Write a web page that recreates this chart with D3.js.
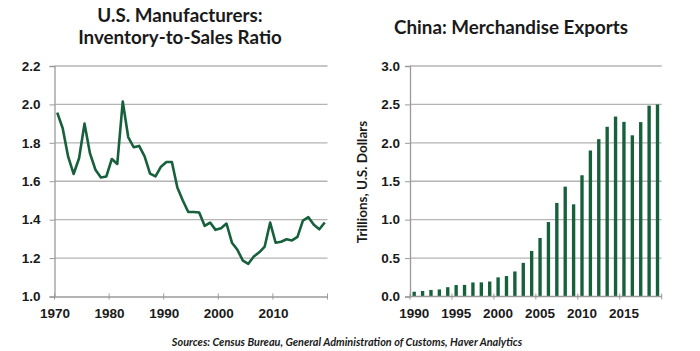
<!DOCTYPE html>
<html>
<head>
<meta charset="utf-8">
<script src="https://cdn.jsdelivr.net/npm/d3@7"></script>
<style>
  body { margin: 0; background: #fff; }
  svg { display: block; font-family: Lato, "Open Sans", sans-serif; }
</style>
</head>
<body>
<div id="chart"></div>
<script>
// Inventory-to-sales ratio, 1970-2019
const ratioYears = d3.range(1970, 2020);
const ratioValues = [
    1.957, 1.876, 1.728, 1.638, 1.72, 1.90, 1.745, 1.66, 1.62, 1.625,
    1.716, 1.69, 2.015, 1.83, 1.777, 1.784, 1.73, 1.64, 1.625, 1.676,
    1.70, 1.70, 1.567, 1.50, 1.44, 1.44, 1.437, 1.368, 1.385, 1.347,
    1.355, 1.38, 1.28, 1.243, 1.187, 1.17, 1.208, 1.23, 1.26, 1.385,
    1.28, 1.285, 1.298, 1.292, 1.31, 1.395, 1.413, 1.373, 1.35, 1.385
];
const ratioTicks = [1.0, 1.2, 1.4, 1.6, 1.8, 2.0, 2.2];
const ratioYearTicks = [1970, 1980, 1990, 2000, 2010];

// China merchandise exports, trillions USD, 1990-2019
const exportYears = d3.range(1990, 2020);
const exportValues = [
    0.062, 0.072, 0.085, 0.092, 0.121, 0.149, 0.151, 0.183, 0.184, 0.195,
    0.249, 0.266, 0.326, 0.438, 0.593, 0.762, 0.969, 1.218, 1.43, 1.20,
    1.578, 1.90, 2.048, 2.209, 2.342, 2.273, 2.098, 2.27, 2.484, 2.499
];
const exportTicks = [0, 0.5, 1.0, 1.5, 2.0, 2.5, 3.0];
const exportYearLabels = [1990, 1995, 2000, 2005, 2010, 2015];

const green = "#17603c";
const gridColor = "#b4b4b4";
const axisColor = "#9a9a9a";
const textColor = "#1a1a1a";

const svg = d3.select("#chart")
    .append("svg")
    .attr("width", 700)
    .attr("height", 351);

const plotTop = 66, plotBottom = 296.5;

// ---------- Left chart: line ----------
const x1 = d3.scaleLinear().domain([1970, 2020]).range([54.5, 327.5]);
const y1 = d3.scaleLinear().domain([1.0, 2.2]).range([plotBottom, plotTop]);

const left = svg.append("g");

// gridlines
left.selectAll(".grid")
    .data(ratioTicks.slice(1))
    .join("line")
    .attr("x1", x1(1970)).attr("x2", x1(2020))
    .attr("y1", d => y1(d)).attr("y2", d => y1(d))
    .attr("stroke", gridColor).attr("stroke-width", 1.3);

// y axis
left.append("g")
    .attr("transform", `translate(${x1(1970)},0)`)
    .call(d3.axisLeft(y1).tickValues(ratioTicks).tickFormat(d3.format(".1f")).tickSize(5).tickPadding(9));

// x axis
left.append("g")
    .attr("transform", `translate(0,${plotBottom})`)
    .call(d3.axisBottom(x1).tickValues(ratioYearTicks).tickFormat(d3.format("d")).tickSize(0).tickPadding(12));
left.selectAll(".xt1")
    .data([...ratioYearTicks, 2020])
    .join("line")
    .attr("x1", d => x1(d)).attr("x2", d => x1(d))
    .attr("y1", plotBottom - 3).attr("y2", plotBottom + 3)
    .attr("stroke", axisColor);

const line = d3.line()
    .x((d, i) => x1(ratioYears[i] + 0.5))
    .y(d => y1(d));

left.append("path")
    .datum(ratioValues)
    .attr("d", line)
    .attr("fill", "none")
    .attr("stroke", green)
    .attr("stroke-width", 2.6)
    .attr("stroke-linejoin", "round");

// ---------- Right chart: bars ----------
const x2 = d3.scaleBand().domain(exportYears).range([410, 661.7]).paddingInner(0.6).paddingOuter(0.3);
const y2 = d3.scaleLinear().domain([0, 3.0]).range([plotBottom, plotTop]);
const step = x2.step();

const right = svg.append("g");

right.selectAll(".grid")
    .data(exportTicks.slice(1))
    .join("line")
    .attr("x1", 410).attr("x2", 661.7)
    .attr("y1", d => y2(d)).attr("y2", d => y2(d))
    .attr("stroke", gridColor).attr("stroke-width", 1.3);

right.append("g")
    .attr("transform", "translate(410,0)")
    .call(d3.axisLeft(y2).tickValues(exportTicks).tickFormat(d3.format(".1f")).tickSize(5).tickPadding(5));

right.selectAll("rect")
    .data(exportValues)
    .join("rect")
    .attr("x", (d, i) => x2(exportYears[i]))
    .attr("y", d => y2(d))
    .attr("width", x2.bandwidth())
    .attr("height", d => plotBottom - y2(d))
    .attr("fill", green);

const xAxis2 = right.append("g")
    .attr("transform", `translate(0,${plotBottom})`)
    .call(d3.axisBottom(x2).tickValues(exportYearLabels).tickSize(0).tickPadding(12));
xAxis2.select(".domain").attr("d", "M410,0H661.7");
right.selectAll(".xt2")
    .data(d3.range(0, 31, 5))
    .join("line")
    .attr("x1", d => 410 + d * step).attr("x2", d => 410 + d * step)
    .attr("y1", plotBottom - 3).attr("y2", plotBottom + 3)
    .attr("stroke", axisColor);

// axis styling
svg.selectAll(".domain").attr("stroke", axisColor).attr("stroke-width", 1.3);
svg.selectAll(".tick line").attr("stroke", axisColor);
svg.selectAll(".tick text")
    .attr("fill", textColor)
    .style("font-size", "13.5px")
    .style("font-weight", "bold");

// y label
svg.append("text")
    .attr("transform", "translate(367,182) rotate(-90)")
    .attr("text-anchor", "middle")
    .attr("fill", textColor)
    .style("font-size", "13.5px")
    .style("font-weight", "bold")
    .text("Trillions, U.S. Dollars");

// titles
const title = svg.append("g")
    .attr("fill", textColor)
    .style("font-size", "18.8px")
    .style("font-weight", "bold")
    .attr("text-anchor", "middle");
title.append("text").attr("x", 180).attr("y", 22).text("U.S. Manufacturers:");
title.append("text").attr("x", 180).attr("y", 43.5).text("Inventory-to-Sales Ratio");
title.append("text").attr("x", 511).attr("y", 33.5).text("China: Merchandise Exports");

// source
svg.append("text")
    .attr("x", 347)
    .attr("y", 345.5)
    .attr("text-anchor", "middle")
    .attr("fill", textColor)
    .style("font-size", "10.9px")
    .style("font-weight", "bold")
    .style("font-style", "italic")
    .text("Sources: Census Bureau, General Administration of Customs, Haver Analytics");
</script>
</body>
</html>
